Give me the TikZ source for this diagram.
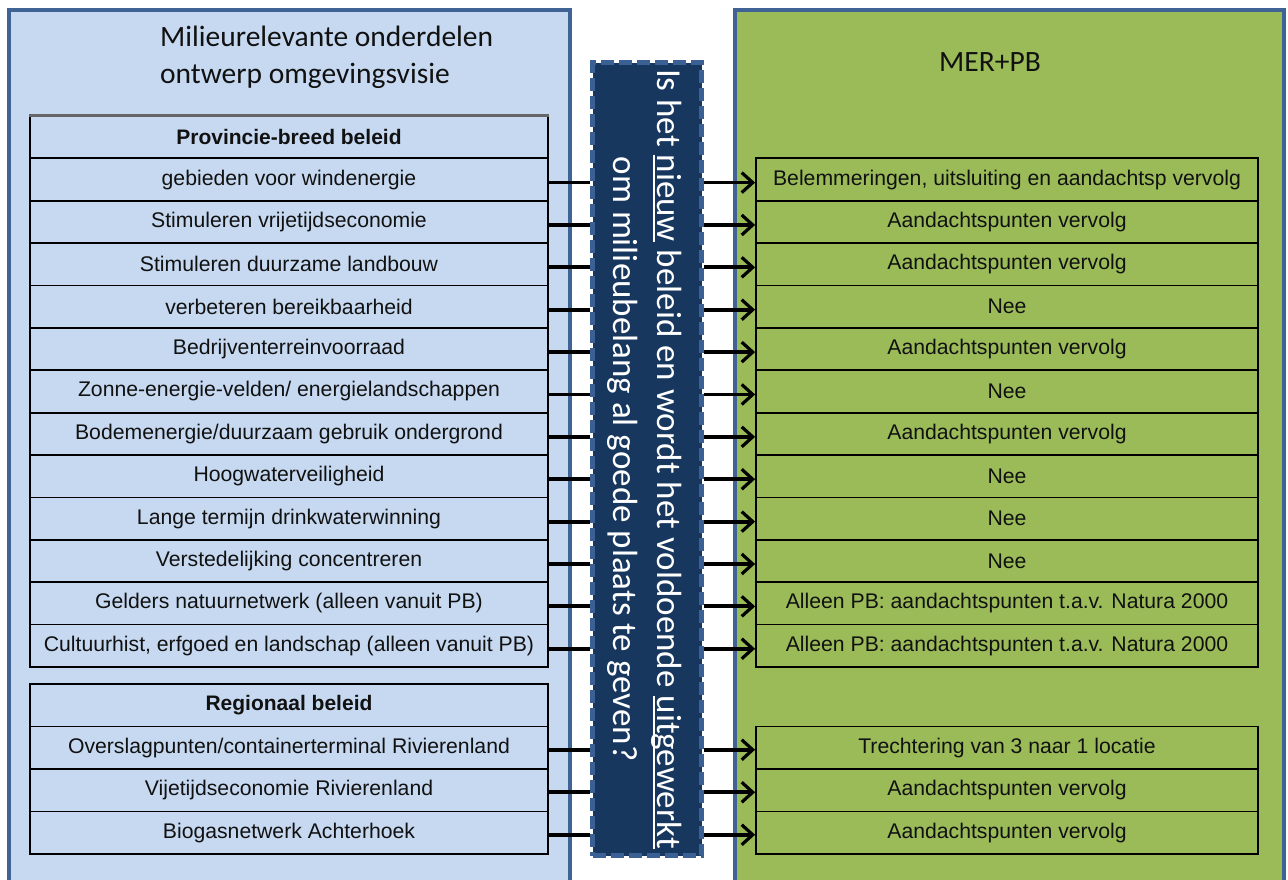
\documentclass[tikz,border=0pt]{standalone}
\usepackage{fontspec}
\setmainfont{Liberation Sans}
\newfontfamily\calfont{Carlito}
\usetikzlibrary{arrows.meta}
\definecolor{lbfill}{HTML}{C6D9F1}
\definecolor{pborder}{HTML}{3F6395}
\definecolor{gfill}{HTML}{9BBB59}
\definecolor{dbfill}{HTML}{17375E}
\definecolor{dbdash}{HTML}{3A6094}
\definecolor{txt}{HTML}{111111}
\newcommand\myunderline[1]{\setbox0\hbox{#1}\rlap{\rule[-0.13em]{\wd0}{0.06em}}\copy0\relax}
\tikzset{
  panel/.style={line width=3.5pt, draw=pborder},
  rowbox/.style={draw=black, line width=1.8pt, minimum width=518pt, minimum height=42.4pt,
    inner sep=0pt, font=\fontsize{21.2}{24}\selectfont, text=txt},
  rrowbox/.style={rowbox, minimum width=502pt},
  hdrbox/.style={rowbox, font=\fontsize{21}{24}\selectfont\bfseries},
  qbox/.style={draw=dbdash, fill=dbfill, line width=5pt, dash pattern=on 13pt off 5pt,
    minimum width=109pt, minimum height=793pt, inner sep=0pt},
  conn/.style={line width=3.8pt, black},
  arr/.style={conn, -{Straight Barb[length=11pt,width=20pt,line width=3.2pt]}},
}
\begin{document}
\begin{tikzpicture}[x=1pt,y=-1pt]
\useasboundingbox (0,0) rectangle (1288,879);
\clip (0,0) rectangle (1288,879);
% panels
\path[panel, fill=lbfill] (8.75,9.75) rectangle (570,905);
\path[panel, fill=gfill] (735,9.75) rectangle (1284,905);
\node[anchor=base west, align=left, font=\calfont\fontsize{29.5}{37}\selectfont, text=txt, inner sep=0pt]
  (title) at (160,83) {Milieurelevante onderdelen\\ontwerp omgevingsvisie};
\node[anchor=base, font=\calfont\fontsize{29.5}{37}\selectfont, text=txt, inner sep=0pt]
  (mer) at (990,71) {MER+PB};
% left table 1
\node[hdrbox] (h1) at (289,137.2) {Provincie-breed beleid};
\foreach \i/\t in {1/gebieden voor windenergie,
  2/Stimuleren vrijetijdseconomie,
  3/Stimuleren duurzame landbouw,
  4/verbeteren bereikbaarheid,
  5/Bedrijventerreinvoorraad,
  6/{Zonne-energie-velden/ energielandschappen},
  7/{Bodemenergie/duurzaam gebruik ondergrond},
  8/Hoogwaterveiligheid,
  9/Lange termijn drinkwaterwinning,
  10/Verstedelijking concentreren,
  11/Gelders natuurnetwerk (alleen vanuit PB),
  12/{Cultuurhist, erfgoed en landschap (alleen vanuit PB)}}
  \node[rowbox] (l\i) at (289,{116+42.38*(\i+0.5)}) {\t};
\draw[line width=3pt, black!60] (h1.north west) -- (h1.north east);
% right table 1
\foreach \i/\t in {1/{Belemmeringen, uitsluiting en aandachtsp vervolg},
  2/Aandachtspunten vervolg,
  3/Aandachtspunten vervolg,
  4/Nee,
  5/Aandachtspunten vervolg,
  6/Nee,
  7/Aandachtspunten vervolg,
  8/Nee,
  9/Nee,
  10/Nee,
  11/Alleen PB: aandachtspunten t.a.v. Natura 2000,
  12/Alleen PB: aandachtspunten t.a.v. Natura 2000}
  \node[rrowbox] (r\i) at (1007,{116+42.38*(\i+0.5)}) {\t};
% left table 2
\node[hdrbox] (h2) at (289,705.3) {Regionaal beleid};
\foreach \i/\t in {1/{Overslagpunten/containerterminal Rivierenland},
  2/Vijetijdseconomie Rivierenland,
  3/Biogasnetwerk Achterhoek}
  \node[rowbox] (m\i) at (289,{684+42.5*(\i+0.5)}) {\t};
\foreach \i/\t in {1/Trechtering van 3 naar 1 locatie,
  2/Aandachtspunten vervolg,
  3/Aandachtspunten vervolg}
  \node[rrowbox] (n\i) at (1007,{684+42.5*(\i+0.5)}) {\t};
% central question box
\node[qbox] (q) at (647,459) {};
\node[rotate=-90, align=center, text=white, inner sep=0pt,
  font=\calfont\fontsize{35}{44}\selectfont] (qt) at (645,459)
  {Is het \myunderline{nieuw} beleid en wordt het voldoende \myunderline{uitgewerkt}\\
   om milieubelang al goede plaats te geven?};
% connectors
\foreach \i in {1,...,12}{
  \draw[conn] ([yshift=-3pt]l\i.east) -- ([yshift=-3pt]l\i.east -| q.west);
  \draw[arr] ([yshift=-3pt]r\i.west -| q.east) -- ([yshift=-3pt]r\i.west);
}
\foreach \i in {1,2,3}{
  \draw[conn] ([yshift=-2pt]m\i.east) -- ([yshift=-2pt]m\i.east -| q.west);
  \draw[arr] ([yshift=-2pt]n\i.west -| q.east) -- ([yshift=-2pt]n\i.west);
}
\end{tikzpicture}
\end{document}
